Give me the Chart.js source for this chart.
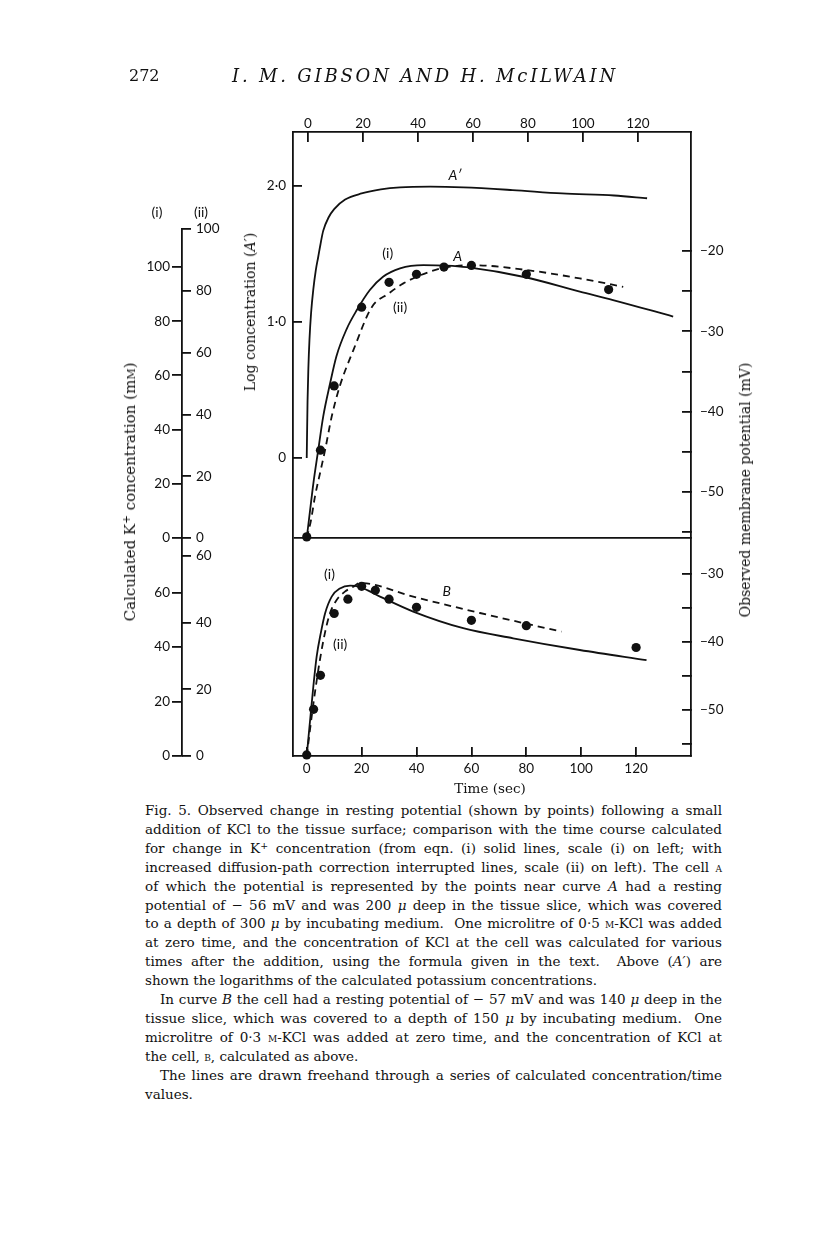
<!DOCTYPE html>
<html>
<head>
<meta charset="utf-8">
<title>Fig. 5</title>
<script src="https://cdn.jsdelivr.net/npm/chart.js@4.4.1/dist/chart.umd.min.js"></script>
<style>
  body { margin: 0; background: #fff; }
  #page { position: relative; width: 816px; height: 1238px; overflow: hidden; color: #111; font-family: 'DejaVu Serif', serif; }
  #fig { position: absolute; left: 0; top: 0; }
  .txt { position: absolute; white-space: nowrap; }
  .rot { transform: translate(-50%, -50%) rotate(-90deg); }
  .ctr { transform: translate(-50%, -50%); }
  .mid { transform: translate(0, -50%); }
  .sc { font-variant: small-caps; }
  sup { font-size: 0.7em; line-height: 0; vertical-align: 0.45em; }
  #caption { position: absolute; left: 145px; top: 801px; width: 577px; font-size: 13.5px; line-height: 18.9px; }
  #caption .ln { text-align: justify; text-align-last: justify; }
  #caption .end { text-align: left; text-align-last: left; }
  #caption .ind { text-indent: 15px; }
</style>
</head>
<body>
<div id="page">
  <canvas id="fig" width="816" height="800"></canvas>

  <div class="txt mid" id="pageno" style="left:129px;top:75px;font-size:16px">272</div>
  <div class="txt mid" id="running" style="left:232px;top:75px;font-size:18px;font-style:italic">I. M. GIBSON AND H. McILWAIN</div>

  <div class="txt ctr" style="left:157px;top:211px;font-family:Lato;font-size:14px">(i)</div>
  <div class="txt ctr" style="left:201px;top:211px;font-family:Lato;font-size:14px">(ii)</div>

  <div class="txt rot" style="left:130px;top:492px;font-size:15px">Calculated K<sup>+</sup> concentration (m<span class="sc">m</span>)</div>
  <div class="txt rot" style="left:250px;top:312px;font-size:14px">Log concentration (<i>A′</i>)</div>
  <div class="txt rot" style="left:745px;top:490px;font-size:14px">Observed membrane potential (mV)</div>
  <div class="txt ctr" style="left:490px;top:788px;font-size:13.5px">Time (sec)</div>

  <div id="caption">
    <div class="ln">Fig. 5. Observed change in resting potential (shown by points) following a small</div>
    <div class="ln">addition of KCl to the tissue surface; comparison with the time course calculated</div>
    <div class="ln">for change in K<sup>+</sup> concentration (from eqn. (i) solid lines, scale (i) on left; with</div>
    <div class="ln">increased diffusion-path correction interrupted lines, scale (ii) on left). The cell <span class="sc">a</span></div>
    <div class="ln">of which the potential is represented by the points near curve <i>A</i> had a resting</div>
    <div class="ln">potential of &minus;&nbsp;56&nbsp;mV and was 200 <i>&mu;</i> deep in the tissue slice, which was covered</div>
    <div class="ln">to a depth of 300 <i>&mu;</i> by incubating medium.&nbsp; One microlitre of 0·5 <span class="sc">m</span>-KCl was added</div>
    <div class="ln">at zero time, and the concentration of KCl at the cell was calculated for various</div>
    <div class="ln">times after the addition, using the formula given in the text.&nbsp; Above (<i>A′</i>) are</div>
    <div class="ln end">shown the logarithms of the calculated potassium concentrations.</div>
    <div class="ln ind">In curve <i>B</i> the cell had a resting potential of &minus;&nbsp;57&nbsp;mV and was 140 <i>&mu;</i> deep in the</div>
    <div class="ln">tissue slice, which was covered to a depth of 150 <i>&mu;</i> by incubating medium.&nbsp; One</div>
    <div class="ln">microlitre of 0·3 <span class="sc">m</span>-KCl was added at zero time, and the concentration of KCl at</div>
    <div class="ln end">the cell, <span class="sc">b</span>, calculated as above.</div>
    <div class="ln ind">The lines are drawn freehand through a series of calculated concentration/time</div>
    <div class="ln end">values.</div>
  </div>
</div>

<script>
// values, time in sec

// upper panel, A' = log concentration
let aPrimeTime = [0, 0.3, 0.6, 1, 1.6, 2.4, 3.3, 4.2, 5, 6, 8, 10, 14, 20, 27, 34, 45, 57, 75, 93, 112, 124]
let aPrimeLog = [0, 0.42, 0.66, 0.87, 1.07, 1.24, 1.38, 1.48, 1.57, 1.67, 1.77, 1.83, 1.9, 1.945, 1.975, 1.99, 1.995, 1.99, 1.97, 1.945, 1.93, 1.91]

// upper panel, curve A (i) solid, scale (i) mM
let aSolidTime = [0, 1.2, 2.4, 4.2, 6, 8.5, 10.8, 14.5, 18.2, 23, 27.8, 34, 42.5, 51, 58.3, 79.7, 99.5, 111.6, 133.5]
let aSolidConc = [0, 10, 20, 32.5, 44.8, 57, 67, 77, 84, 91.5, 96.4, 99.5, 100.7, 100.5, 99.9, 96.2, 90.9, 87.8, 81.7]

// upper panel, curve A (ii) dashed, scale (ii) mM
let aDashTime = [0, 1.5, 3, 5, 6.7, 9.1, 12.1, 17, 23.7, 30, 35.2, 44.9, 51, 60.4, 80.3, 99.5, 115.3]
let aDashConc = [0, 5.5, 13.4, 21.6, 28.5, 39.3, 49.3, 60.8, 74.7, 79.2, 82.4, 86.2, 87.6, 88.3, 86.7, 84.0, 81.3]

// upper panel, observed potential of cell A (mV)
let aObsTime = [0, 5, 10, 20, 30, 40, 50, 60, 80, 110]
let aObsMv = [-55.6, -44.8, -36.8, -27.0, -23.9, -22.9, -22.0, -21.8, -22.9, -24.8]

// lower panel, curve B (i) solid
let bSolidTime = [0, 1.5, 2.4, 3.6, 5.1, 6.7, 9.1, 12.1, 15.8, 19.4, 26.7, 38.8, 57, 75.2, 99.5, 123.8]
let bSolidConc = [0, 16, 25.4, 36.4, 45, 52.4, 58.5, 61.5, 62.5, 62, 58.5, 53, 46.9, 43.2, 38.9, 35.2]

// lower panel, curve B (ii) dashed
let bDashTime = [0, 1.8, 3.3, 4.8, 6.6, 8.5, 10.9, 13.9, 17, 19.4, 38.8, 63.1, 92.8]
let bDashConc = [0, 11.8, 20.8, 28.8, 36.8, 42.9, 46.8, 49.3, 50.8, 51.9, 47.8, 42.9, 37.3]

// lower panel, observed potential of cell B (mV)
let bObsTime = [0, 2.5, 5, 10, 15, 20, 25, 30, 40, 60, 80, 120]
let bObsMv = [-56.6, -49.9, -44.9, -35.8, -33.7, -31.8, -32.4, -33.7, -34.9, -36.8, -37.6, -40.8]

// tick labels
let timeTicks = [0, 20, 40, 60, 80, 100, 120]
let logTicks = [0, 1, 2]
let scaleOneUpperTicks = [0, 20, 40, 60, 80, 100]
let scaleTwoUpperTicks = [0, 20, 40, 60, 80, 100]
let scaleOneLowerTicks = [0, 20, 40, 60]
let scaleTwoLowerTicks = [0, 20, 40, 60]
let mvUpperTicks = [-20, -25, -30, -35, -40, -45, -50, -55]
let mvLowerTicks = [-30, -35, -40, -45, -50, -55]

// curve names written on the plot: text, time, value, axis
let curveNotes = [
    { text: 'A\u2032', t: 54, v: 2.08, axis: 'yLog', italic: true },
    { text: '(i)', t: 29.5, v: 105, axis: 'iMid' },
    { text: 'A', t: 55, v: 104, axis: 'iMid', italic: true },
    { text: '(ii)', t: 34, v: 85, axis: 'iMid' },
    { text: '(i)', t: 8.3, v: 66.5, axis: 'iLow' },
    { text: 'B', t: 51, v: 60.5, axis: 'iLow', italic: true },
    { text: '(ii)', t: 12.2, v: 41, axis: 'iLow' }
]

let ink = '#111'
Chart.defaults.font.family = 'Lato'
Chart.defaults.font.size = 13.5
Chart.defaults.color = ink

function pairs(xs, ys) {
    return xs.map((x, i) => ({ x: x, y: ys[i] }))
}

// ticks exactly where the figure has them
function fixTicks(list) {
    return scale => { scale.ticks = list.map(v => ({ value: v })) }
}
function setWidth(w) {
    return scale => { scale.width = w }
}
function setHeight(h) {
    return scale => { scale.height = h }
}

function curve(xs, ys, axis, dash) {
    return {
        type: 'line',
        data: pairs(xs, ys),
        xAxisID: 'x',
        yAxisID: axis,
        borderColor: ink,
        borderWidth: 1.8,
        borderDash: dash,
        pointRadius: 0,
        cubicInterpolationMode: 'monotone',
        fill: false,
        clip: 4
    }
}

function dots(xs, ys, axis) {
    return {
        type: 'scatter',
        data: pairs(xs, ys),
        xAxisID: 'x',
        yAxisID: axis,
        pointRadius: 4.6,
        pointBackgroundColor: ink,
        pointBorderWidth: 0,
        clip: false
    }
}

// hidden piece of the left scales, above the (ii) 100 mark
function blankAxis(stack, stackWeight, weight, w) {
    return {
        type: 'linear', axis: 'y', position: 'left', stack: stack, stackWeight: stackWeight, weight: weight,
        min: 0, max: 1, afterFit: setWidth(w),
        border: { display: false }, grid: { display: false }, ticks: { display: false }
    }
}

let tickGrid = len => ({ drawOnChartArea: false, tickLength: len, tickColor: ink, lineWidth: 1.8 })
let frame = { color: ink, width: 1.8 }

let labelPlugin = {
    id: 'curveNotes',
    afterDatasetsDraw(chart) {
        let ctx = chart.ctx
        ctx.save()
        ctx.fillStyle = ink
        ctx.textAlign = 'center'
        ctx.textBaseline = 'middle'
        curveNotes.forEach(n => {
            ctx.font = (n.italic ? 'italic ' : '') + '14px Lato'
            ctx.fillText(n.text, chart.scales.x.getPixelForValue(n.t), chart.scales[n.axis].getPixelForValue(n.v))
        })
        ctx.restore()
    }
}

let ctx = document.querySelector('#fig').getContext('2d')

let figure = new Chart(ctx, {
    type: 'scatter',
    data: {
        datasets: [
            curve(aPrimeTime, aPrimeLog, 'yLog', []),
            curve(aSolidTime, aSolidConc, 'iMid', []),
            curve(aDashTime, aDashConc, 'iiMid', [7, 5]),
            dots(aObsTime, aObsMv, 'mvUp'),
            curve(bSolidTime, bSolidConc, 'iLow', []),
            curve(bDashTime, bDashConc, 'iiLow', [7, 5]),
            dots(bObsTime, bObsMv, 'mvLow')
        ]
    },
    options: {
        responsive: false,
        animation: false,
        events: [],
        layout: { padding: { left: 132, right: 65, top: 92, bottom: 4 } },
        plugins: { legend: { display: false }, tooltip: { enabled: false } },
        scales: {
            x: {
                type: 'linear', position: 'bottom', min: -5, max: 140,
                afterBuildTicks: fixTicks(timeTicks), afterFit: setHeight(40),
                border: frame, grid: tickGrid(-9),
                ticks: { padding: 14, autoSkip: false, maxRotation: 0 }
            },
            xTop: {
                type: 'linear', axis: 'x', position: 'top', min: -5.45, max: 139.3,
                afterBuildTicks: fixTicks(timeTicks), afterFit: setHeight(40),
                border: frame, grid: tickGrid(-10),
                ticks: { padding: 10, autoSkip: false, maxRotation: 0 }
            },
            yLog: {
                type: 'linear', axis: 'y', position: 'left', weight: 10, min: -2.191, max: 2.397,
                afterBuildTicks: fixTicks(logTicks), afterFit: setWidth(111),
                border: frame, grid: tickGrid(-9),
                ticks: { padding: 16, autoSkip: false, callback: v => v === 0 ? '0' : v.toFixed(1).replace('.', '\u00b7') }
            },
            // scale (i), left outer line: three stacked pieces
            iTop: blankAxis('one', 97, 32, 50),
            iMid: {
                type: 'linear', axis: 'y', position: 'left', stack: 'one', stackWeight: 309, weight: 31,
                min: 0, max: 114,
                afterBuildTicks: fixTicks(scaleOneUpperTicks), afterFit: setWidth(50),
                border: frame,
                grid: {
                    drawOnChartArea: true, tickLength: 10, tickColor: ink, lineWidth: 1.8,
                    // the zero line is the divider between the two panels
                    color: c => c.tick && c.tick.value === 0 ? ink : 'rgba(0,0,0,0)'
                },
                ticks: { padding: 2, autoSkip: false }
            },
            iLow: {
                type: 'linear', axis: 'y', position: 'left', stack: 'one', stackWeight: 218, weight: 30,
                min: 0, max: 80,
                afterBuildTicks: fixTicks(scaleOneLowerTicks), afterFit: setWidth(50),
                border: frame, grid: tickGrid(10),
                ticks: { padding: 2, autoSkip: false }
            },
            // scale (ii), same line, ticks and numbers to the right
            iiTop: blankAxis('two', 97, 22, 0),
            iiMid: {
                type: 'linear', axis: 'y', position: 'left', stack: 'two', stackWeight: 309, weight: 21,
                min: 0, max: 100,
                afterBuildTicks: fixTicks(scaleTwoUpperTicks), afterFit: setWidth(0),
                border: { display: false }, grid: tickGrid(-9),
                ticks: { mirror: true, padding: 14, autoSkip: false }
            },
            iiLow: {
                type: 'linear', axis: 'y', position: 'left', stack: 'two', stackWeight: 218, weight: 20,
                min: 0, max: 65.4,
                afterBuildTicks: fixTicks(scaleTwoLowerTicks), afterFit: setWidth(0),
                border: { display: false }, grid: tickGrid(-9),
                ticks: { mirror: true, padding: 14, autoSkip: false }
            },
            // observed membrane potential, right
            mvUp: {
                type: 'linear', axis: 'y', position: 'right', stack: 'mv', stackWeight: 406, weight: 1,
                min: -55.74, max: -5.18,
                afterBuildTicks: fixTicks(mvUpperTicks), afterFit: setWidth(60),
                border: frame, grid: tickGrid(-9),
                ticks: { padding: 18, autoSkip: false, callback: v => v % 10 === 0 ? '\u2212' + Math.abs(v) : '' }
            },
            mvLow: {
                type: 'linear', axis: 'y', position: 'right', stack: 'mv', stackWeight: 218, weight: 2,
                min: -56.76, max: -24.7,
                afterBuildTicks: fixTicks(mvLowerTicks), afterFit: setWidth(60),
                border: frame, grid: tickGrid(-9),
                ticks: { padding: 18, autoSkip: false, callback: v => v % 10 === 0 ? '\u2212' + Math.abs(v) : '' }
            }
        }
    },
    plugins: [labelPlugin]
})

// spread the running head to its width, keep caption lines on one line each
function spreadTo(el, target) {
    el.style.letterSpacing = '0px'
    let w = el.getBoundingClientRect().width
    let n = el.textContent.length
    el.style.letterSpacing = ((target - w) / n) + 'px'
}
spreadTo(document.querySelector('#running'), 386)

document.querySelectorAll('#caption .ln').forEach(el => {
    let size = 13.5
    while (el.offsetHeight > 25 && size > 9) {
        size -= 0.25
        el.style.fontSize = size + 'px'
    }
})
</script>
</body>
</html>
